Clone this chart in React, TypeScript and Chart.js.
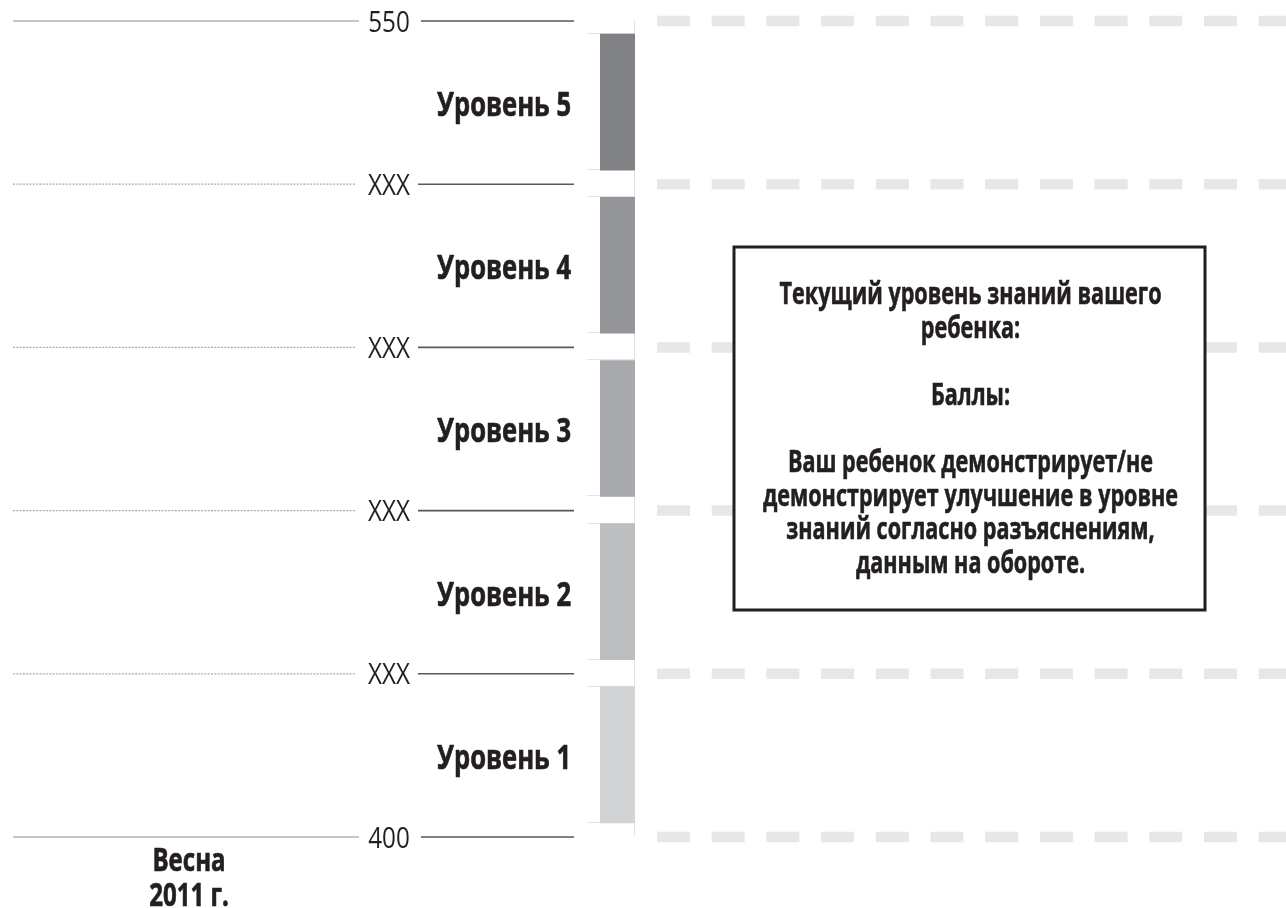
import { useEffect, useRef } from 'react';
import { Chart, registerables } from 'chart.js';

Chart.register(...registerables);

// ---- data ----
const levelLabels = ['Уровень 1', 'Уровень 2', 'Уровень 3', 'Уровень 4', 'Уровень 5'];
const barLows = [402.6, 432.6, 462.6, 492.6, 522.6];
const barHighs = [427.6, 457.6, 487.6, 517.6, 547.6];
const levelColors = ['#d1d3d4', '#bcbec0', '#a7a9ac', '#939598', '#808285'];
const tickValues = [400, 430, 460, 490, 520, 550];
const tickLabels = ['400', 'XXX', 'XXX', 'XXX', 'XXX', '550'];
const categoryLines = ['Весна', '2011 г.'];
const boxLines = [
  'Текущий уровень знаний вашего',
  'ребенка:',
  '',
  'Баллы:',
  '',
  'Ваш ребенок демонстрирует/не',
  'демонстрирует улучшение в уровне',
  'знаний согласно разъяснениям,',
  'данным на обороте.',
];

const FAMILY = '"Open Sans", "Noto Sans", "DejaVu Sans", sans-serif';
const TEXT_COLOR = '#231f20';

function condensedText(
  ctx: CanvasRenderingContext2D,
  text: string,
  x: number,
  y: number,
  align: CanvasTextAlign,
  font: string,
  sx: number,
  stroke = 0
) {
  ctx.save();
  ctx.font = font;
  ctx.textAlign = align;
  ctx.textBaseline = 'alphabetic';
  ctx.fillStyle = TEXT_COLOR;
  ctx.translate(x, y);
  ctx.scale(sx, 1);
  ctx.fillText(text, 0, 0);
  if (stroke > 0) {
    ctx.strokeStyle = TEXT_COLOR;
    ctx.lineWidth = stroke;
    ctx.lineJoin = 'round';
    ctx.strokeText(text, 0, 0);
  }
  ctx.restore();
}

const overlayPlugin = {
  id: 'overlay',
  beforeDatasetsDraw(chart: any) {
    const ctx: CanvasRenderingContext2D = chart.ctx;
    const yScale = chart.scales.y;
    const W = chart.width;
    ctx.save();
    // dashed bands on the right
    ctx.strokeStyle = '#e6e7e8';
    ctx.lineWidth = 10.5;
    ctx.setLineDash([33, 21.7]);
    tickValues.forEach((v) => {
      const y = yScale.getPixelForValue(v);
      ctx.beginPath();
      ctx.moveTo(657, y);
      ctx.lineTo(W, y);
      ctx.stroke();
    });
    ctx.setLineDash([]);
    // faint cell lines near bars
    ctx.strokeStyle = '#e3e4e5';
    ctx.lineWidth = 1;
    barLows.forEach((lo, i) => {
      [lo, barHighs[i]].forEach((v) => {
        const y = Math.round(yScale.getPixelForValue(v)) - 0.5;
        ctx.beginPath();
        ctx.moveTo(587, y);
        ctx.lineTo(634, y);
        ctx.stroke();
      });
    });
    ctx.beginPath();
    ctx.moveTo(634.5, yScale.getPixelForValue(550) - 1);
    ctx.lineTo(634.5, yScale.getPixelForValue(400) - 1);
    ctx.stroke();

    // left axis lines + tick labels
    const tickFont = `29px ${FAMILY}`;
    ctx.font = tickFont;
    const sxLight = 42 / ctx.measureText('XXX').width;
    tickValues.forEach((v, i) => {
      const y = yScale.getPixelForValue(v);
      const isEnd = i === 0 || i === tickValues.length - 1;
      ctx.lineWidth = 1.3;
      ctx.strokeStyle = isEnd ? '#b1b3b6' : '#a7a9ac';
      ctx.setLineDash(isEnd ? [] : [2, 1.3]);
      ctx.beginPath();
      ctx.moveTo(13, y);
      ctx.lineTo(isEnd ? 359 : 355, y);
      ctx.stroke();
      ctx.setLineDash([]);
      ctx.strokeStyle = '#58595b';
      ctx.lineWidth = 1.6;
      ctx.beginPath();
      ctx.moveTo(isEnd ? 421 : 418, y);
      ctx.lineTo(574, y);
      ctx.stroke();
      condensedText(ctx, tickLabels[i], 389, y + 10.5, 'center', tickFont, sxLight);
    });
    ctx.restore();
  },
  afterDatasetsDraw(chart: any) {
    const ctx: CanvasRenderingContext2D = chart.ctx;
    const yScale = chart.scales.y;
    ctx.save();
    const boldFont = `bold 34px ${FAMILY}`;
    ctx.font = boldFont;
    const sxBold = 134 / ctx.measureText('Уровень 5').width;

    // level labels
    levelLabels.forEach((lbl, i) => {
      const mid = yScale.getPixelForValue((barLows[i] + barHighs[i]) / 2);
      condensedText(ctx, lbl, 571, mid + 14, 'right', boldFont, sxBold, 0.7);
    });

    // category label
    const catFont = `bold 32px ${FAMILY}`;
    categoryLines.forEach((t, i) => {
      condensedText(ctx, t, 189, 871 + i * 35, 'center', catFont, sxBold, 0.7);
    });

    // info box
    const bx = 734, by = 247, bw = 471, bh = 363;
    ctx.fillStyle = '#ffffff';
    ctx.fillRect(bx, by, bw, bh);
    ctx.strokeStyle = '#231f20';
    ctx.lineWidth = 3;
    ctx.strokeRect(bx, by, bw, bh);
    const cx = bx + bw / 2 + 1;
    const boxFont = `bold 30px ${FAMILY}`;
    ctx.font = boxFont;
    const sxBox = 382 / ctx.measureText(boxLines[0]).width;
    boxLines.forEach((t, i) => {
      if (!t) return;
      condensedText(ctx, t, cx, 304 + i * 33.6, 'center', boxFont, sxBox, 0.6);
    });
    ctx.restore();
  },
};

export default function App() {
  const ref = useRef<HTMLCanvasElement | null>(null);
  useEffect(() => {
    if (!ref.current) return;
    const chart = new Chart(ref.current, {
      type: 'bar',
      data: {
        labels: ['Весна 2011 г.'],
        datasets: levelLabels.map((l, i) => ({
          label: l,
          data: [[barLows[i], barHighs[i]]] as any,
          backgroundColor: levelColors[i],
          borderWidth: 0,
          barPercentage: 1,
          categoryPercentage: 1,
        })),
      },
      options: {
        animation: false,
        responsive: false,
        maintainAspectRatio: false,
        layout: { padding: { left: 600, right: 651, top: 21, bottom: 71 } },
        plugins: { legend: { display: false }, tooltip: { enabled: false } },
        scales: {
          x: { display: false, stacked: true },
          y: { display: false, min: 400, max: 550 },
        },
      },
      plugins: [overlayPlugin],
    });
    return () => chart.destroy();
  }, []);
  return (
    <div style={{ position: 'absolute', left: 0, top: 0, width: 1286, height: 908, background: '#fff' }}>
      <canvas ref={ref} width={1286} height={908} />
    </div>
  );
}
